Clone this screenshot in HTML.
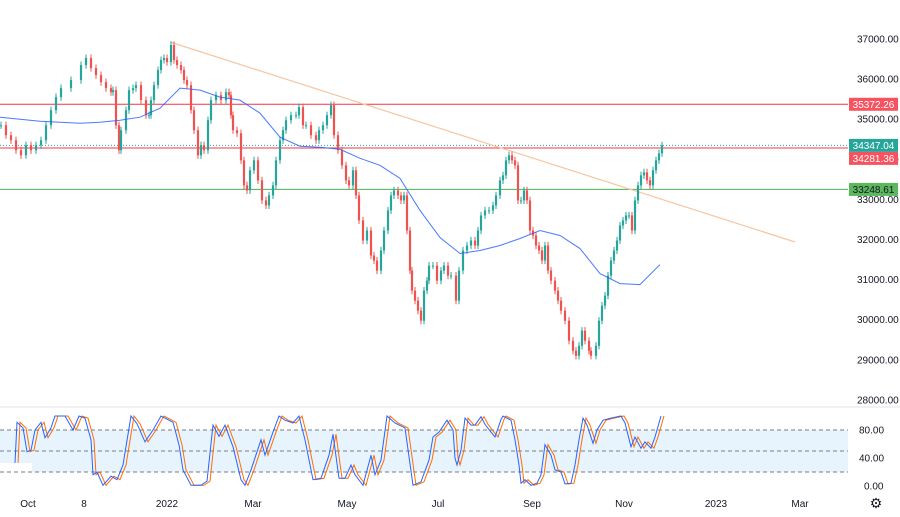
<!DOCTYPE html>
<html><head><meta charset="utf-8">
<style>
body{margin:0;background:#fff;font-family:"Liberation Sans",sans-serif}
svg text{font-family:"Liberation Sans",sans-serif;font-size:10px;fill:#131722}
</style></head>
<body>
<svg id="c" width="900" height="512" xmlns="http://www.w3.org/2000/svg"></svg>
<script>
const closeT=[0,2.5,5,7.5,10,12.5,15,17.5,20,22.5,25,27.5,30,35,40,42.5,45,47.5,50,52.5,55,56,57.5,59,60,62.5,64,66,67.5,70,72.5,74,75,76.5,78.5,80,81.5,83,85,86.5,88,90,91.5,93,95,96.5,98.5,100,101.5,103.5,105,107.5,110,112.5,114,115,116,118,120,121.5,123,124.5,126.5,128.5,130.5,132.5,134,136,137.5,139.5,141,142.5,145,147.5,149,151,152.5,155,157.5,159,161,163,165,166.5,168.5,170.5,172.5,174,176,177.5,179,181,183,185,186.5,188,190,191.5,193.5,195,196.5,198.5,200,201.5,203,204.5,205.5,207,208.5,210,211.5,213,214,216,218,220,221.5,223.5,225,227.5,229,231,233,235,237,238.5,240,242,244,246,247.5,249.5,251,252.5,254,255.5,257,258.5,260,261.5,263,264.5,266,267.5,269,270.5,272,273.5,275,277,278.5,280,282,284,286,287.5,289,290.5,292,294,295,297.5,299,300.5,302,303.5,305,306.5,308,309.5,311,312.5,314,315.5,317,318.5,320,321.5,323,324.5,326,327.5,329,330.5];
const closes=[34850,34600,34475,34225,34100,34350,34225,34350,34475,34850,
35225,35550,35775,35975,36350,36525,36275,36100,35925,35775,35675,35725,
34850,34225,34725,35225,35725,35775,35850,35475,35100,35100,35475,35850,36225,36475,36525,36425,36850,36475,36350,36225,35975,35850,
35225,34725,34100,34350,34225,34975,35475,35600,35475,35675,35600,35100,34725,34650,33975,33350,33225,33725,33975,33475,32975,32850,33100,33350,33975,34475,34725,34975,35100,35100,35300,34850,34850,34600,34475,34725,34850,35100,35350,34600,34225,33850,33475,33350,33725,33100,32475,31975,32225,31600,31475,31225,31725,32225,32725,33100,33225,33100,32975,33100,32225,31225,30725,30475,30225,29975,30725,30975,31350,31350,30975,31225,31350,31100,31100,30475,31225,31725,31850,31975,31850,32225,32600,32725,32725,32850,33100,33475,33600,33975,34100,33975,33850,32975,32975,33225,32975,32225,32100,31850,31725,31475,31850,31225,30975,30725,30475,30225,29975,29475,29225,29100,29350,29725,29475,29225,29100,29350,29975,30350,30600,31100,31475,31725,31975,32350,32475,32600,32600,32225,32975,33350,33600,33675,33475,33350,33725,33975,34150,34347];
const maValues=[35050,35000,34950,34925,34900,34925,34975,35050,35275,35775,35725,35550,35475,35150,34550,34325,34300,34250,34025,33850,33525,32725,32050,31650,31725,31850,32025,32225,32100,31775,31150,30900,30875,31375];
const stochT=[7,8,11,13,15,17,20,22,25,27,32,36,39,42,45,46,48,51,55,58,61,65,68,72,76,80,84,86,89,91,95,100,103,106,109,112,116,120,122,125,130,132,136,139,142,146,149,152,156,160,164,166,169,172,175,177,181,185,187,190,193,197,202,206,210,214,216,219,223,226,227,228,230,232,235,237,240,242,245,247,250,251,255,257,259,260,262,265,268,270,272,275,277,280,282,285,287,289,291,293,296,298,301,305,310,312,315,317,320,322,325,327,330];
const stochK=[33,91,83,49,51,80,91,69,83,100,100,80,100,97,66,16,20,1,14,9,30,100,89,63,80,100,94,91,59,23,1,1,7,87,71,87,56,9,1,23,66,44,77,100,94,90,100,66,9,11,44,74,11,11,30,16,1,44,16,37,100,90,83,1,6,37,70,77,94,80,40,30,51,97,87,87,99,88,77,70,95,100,94,66,30,4,9,1,4,16,59,44,23,20,3,4,30,66,97,87,61,80,94,97,100,90,56,70,54,63,54,70,100];
const priceTicks=[37000,36000,35000,34000,33000,32000,31000,30000,29000,28000];
const stochTicks=[80,40,0];
const dateLabels=["Oct","8","2022","Mar","May","Jul","Sep","Nov","2023","Mar"];
const dateX=[28,84,167,253,347,438,532,624,716,800];
const levels=[{v:35372.26,c:"#f23645",t:"35372.26",bg:"#f7525f",fg:"#fff"},{v:34281.36,c:"#f23645",t:"34281.36",bg:"#f7525f",fg:"#fff"},{v:33248.61,c:"#4caf50",t:"33248.61",bg:"#5cb85c",fg:"#131722"}];
const last=34347.04;

const NS="http://www.w3.org/2000/svg";
const svg=document.getElementById('c');
function el(t,a,p){const e=document.createElementNS(NS,t);for(const k in a)e.setAttribute(k,a[k]);(p||svg).appendChild(e);return e;}
const py=v=>39+(37000-v)*0.0401;
const sy=v=>486-0.7*v;
const tx=t=>1+t*2;
const mx=i=>i*660/(maValues.length-1);

let band=el('rect',{x:0,y:sy(80),width:848,height:sy(20)-sy(80),fill:'#e3f2fd',opacity:0.85});


let wb=el('rect',{x:0,y:463,width:32,height:30,fill:'#fff'});


[80,50,20].forEach(v=>{let l=el('line',{x1:0,x2:848,y1:sy(v),y2:sy(v),stroke:'#787b86','stroke-dasharray':'4 3','stroke-width':1});

});
let sep=el('line',{x1:0,x2:900,y1:407,y2:407,stroke:'#e0e3eb'});



levels.forEach(L=>{let l=el('line',{x1:0,x2:848,y1:py(L.v),y2:py(L.v),stroke:L.c,'stroke-width':1});

});
let dl=el('line',{x1:0,x2:848,y1:py(last),y2:py(last),stroke:'#26a69a','stroke-dasharray':'1 2'});


let tl=el('line',{x1:170,y1:42,x2:795,y2:242,stroke:'#f7c59f','stroke-width':1.2});



const g=el('g',{});


const n=Math.min(closes.length,closeT.length);
for(let i=0;i<n;i++){
 const c=closes[i];const o=i?closes[i-1]:c;const up=c>=o;const col=up?'#26a69a':'#ef5350';
 const x=tx(closeT[i]);const hi=Math.max(o,c)+90,lo=Math.min(o,c)-90;
 const w=el('line',{x1:x,x2:x,y1:py(hi),y2:py(lo),stroke:col,'stroke-width':1},g);
 
 
 const top=py(Math.max(o,c));const h=Math.max(1,py(Math.min(o,c))-top);
 const r=el('rect',{x:x-1.1,y:top,width:2.2,height:h,fill:col},g);
 
 
}
let ma=el('polyline',{points:maValues.map((v,i)=>mx(i)+','+py(v)).join(' '),fill:'none',stroke:'#2962ff','stroke-width':1,opacity:0.85});


let sd=el('polyline',{points:stochK.map((v,i)=>(tx(stochT[i])+3)+','+sy(v)).join(' '),fill:'none',stroke:'#ff6d00','stroke-width':1});


let sk=el('polyline',{points:stochK.map((v,i)=>tx(stochT[i])+','+sy(v)).join(' '),fill:'none',stroke:'#2962ff','stroke-width':1});



priceTicks.forEach(v=>{let t=el('text',{x:857,y:py(v)+3.5});t.textContent=v.toFixed(2);

});
stochTicks.forEach(v=>{let t=el('text',{x:v?859:864,y:sy(v)+3.5});t.textContent=v.toFixed(2);

});
dateLabels.forEach((d,i)=>{let t=el('text',{x:dateX[i],y:507,'text-anchor':'middle'});t.textContent=d;

});
function badge(y,bg,fg,txt){
 const r=el('rect',{x:849,y:y-6.5,width:49,height:13,fill:bg});
 
 
 const t=el('text',{x:873.5,y:y+3.5,'text-anchor':'middle',style:'fill:'+fg});t.textContent=txt;
 
 }
badge(py(levels[0].v),levels[0].bg,levels[0].fg,levels[0].t);
badge(py(last),'#26a69a','#fff','34347.04');
badge(py(last)+13,levels[1].bg,levels[1].fg,levels[1].t);
badge(py(levels[2].v),levels[2].bg,levels[2].fg,levels[2].t);
let gear=el('text',{x:876,y:508,'text-anchor':'middle',style:'font-size:14px;fill:#131722'});gear.textContent='⚙';


</script>
</body></html>
